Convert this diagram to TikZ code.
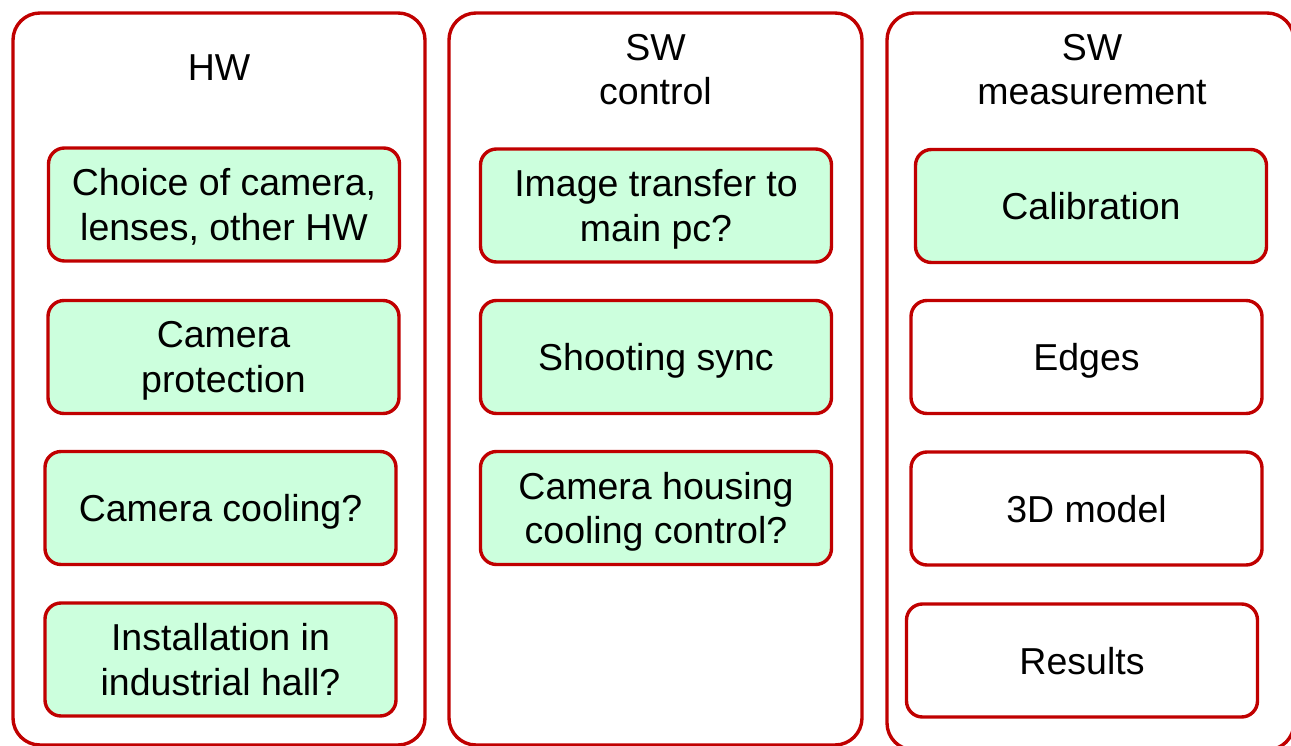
\documentclass[tikz,border=0pt]{standalone}
\usepackage{fontspec}
\setmainfont{Liberation Sans}
\definecolor{boxred}{RGB}{192,0,0}
\definecolor{boxgreen}{RGB}{204,255,221}

\begin{document}
\begin{tikzpicture}[
            x = 1pt, y = -1pt,
            every node/.style={inner sep=0pt, outer sep=0pt, align=center,
                font=\fontsize{37.5}{44.5}\selectfont},
            column/.style={draw=boxred, line width=3.4pt, rounded corners=27pt},
            task/.style={draw=boxred, line width=3.4pt, rounded corners=16pt,
                fill=boxgreen, minimum width=351pt, minimum height=113pt,
                text depth=0pt},
            todo/.style={task, fill=white},
            ]

        \useasboundingbox (0, 0) rectangle (1291, 746);

        % columns
        \node[column, minimum width=412pt, minimum height=732pt] (hw) at (219, 379) {};
        \node[column, minimum width=413pt, minimum height=732pt] (ctrl) at (655.5, 379) {};
        \node[column, minimum width=407pt, minimum height=737pt] (meas) at (1090.5, 381.5) {};

        \node (hwtitle) at (219, 68) {HW};
        \node (ctrltitle) at (655.5, 69.5) {SW\\control};
        \node (meastitle) at (1092, 69.5) {SW\\measurement};

        % HW
        \node[task] (camera) at (224, 204.5) {Choice of camera,\\lenses, other HW};
        \node[task] (protection) at (223.5, 357) {Camera\\protection};
        \node[task] (cooling) at (220.5, 508) {Camera cooling?};
        \node[task] (install) at (220.5, 659.5) {Installation in\\industrial hall?};

        % SW control
        \node[task] (transfer) at (656, 205.5) {Image transfer to\\main pc?};
        \node[task] (sync) at (656, 357) {Shooting sync};
        \node[task] (housing) at (656, 508) {Camera housing\\cooling control?};

        % SW measurement
        \node[task] (calib) at (1091, 206) {Calibration};
        \node[todo] (edges) at (1086.5, 357) {Edges};
        \node[todo] (model) at (1086.5, 508.5) {3D model};
        \node[todo] (results) at (1082, 660.5) {Results};
    \end{tikzpicture}
\end{document}
